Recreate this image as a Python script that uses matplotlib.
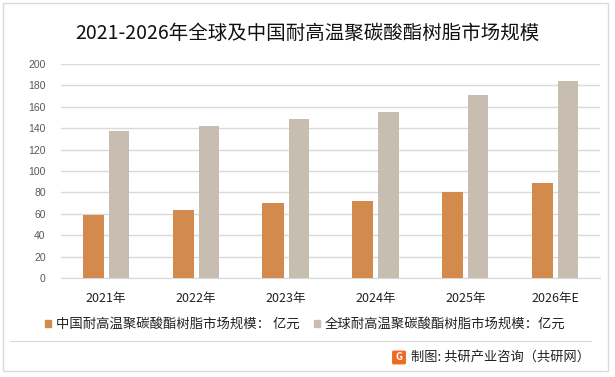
import matplotlib.pyplot as plt
from matplotlib.patches import Rectangle, FancyBboxPatch
from matplotlib.lines import Line2D
import numpy as np

plt.rcParams['font.family'] = ['Noto Sans CJK SC', 'DejaVu Sans']

# data
years = ['2021年', '2022年', '2023年', '2024年', '2025年', '2026年E']
china = [59, 64, 70, 72, 80.5, 89]
world = [137, 141.6, 149, 155, 171, 184]
china_label = '中国耐高温聚碳酸酯树脂市场规模： 亿元'
world_label = '全球耐高温聚碳酸酯树脂市场规模：亿元'
title = '2021-2026年全球及中国耐高温聚碳酸酯树脂市场规模'
source = '制图: 共研产业咨询（共研网）'

c_china = '#D38B4D'
c_world = '#C7BDB1'

W, H = 615, 377
fig = plt.figure(figsize=(W / 100, H / 100), dpi=100)

# outer frame
fig.add_artist(Rectangle((3 / W, 1 - 371 / H), 605 / W, 368 / H, transform=fig.transFigure,
                         fill=False, edgecolor='#D9D9D9', linewidth=1))

ax = fig.add_axes([61 / W, 1 - 278 / H, 539 / W, 214 / H])
x = np.arange(len(years))
ax.bar(x - 0.14, china, width=0.235, color=c_china, zorder=3)
ax.bar(x + 0.145, world, width=0.225, color=c_world, zorder=3)

ax.set_xlim(-0.5, len(years) - 0.5)
ax.set_ylim(0, 200)
ax.set_yticks(range(0, 201, 20))
ax.yaxis.grid(True, color='#D9D9D9', linewidth=1, zorder=0)
for s in ['top', 'right', 'left']:
    ax.spines[s].set_visible(False)
ax.spines['bottom'].set_color('#D9D9D9')
ax.tick_params(axis='y', length=0, pad=11, labelsize=7.5, labelcolor='#595959')
ax.tick_params(axis='x', length=0, pad=10, labelsize=9, labelcolor='#222222')
for lab in ax.get_yticklabels():
    lab.set_fontfamily(['Liberation Sans', 'DejaVu Sans'])
ax.set_xticks(x)
ax.set_xticklabels(years)

fig.text(0.5, 1 - 33 / H, title, ha='center', va='center', fontsize=14, color='#111111')

# legend
fig.add_artist(Rectangle((45 / W, 1 - 327 / H), 6 / W, 7 / H, transform=fig.transFigure,
                         color=c_china))
fig.text(56 / W, 1 - 323.5 / H, china_label, ha='left', va='center', fontsize=9.6, color='#222222')
fig.add_artist(Rectangle((314 / W, 1 - 327 / H), 6 / W, 7 / H, transform=fig.transFigure,
                         color=c_world))
fig.text(325 / W, 1 - 323.5 / H, world_label, ha='left', va='center', fontsize=9.6, color='#222222')

# divider and source
fig.add_artist(Line2D([10 / W, 591 / W], [1 - 341 / H, 1 - 341 / H], transform=fig.transFigure,
                      color='#D9D9D9', linewidth=0.8))
fig.add_artist(FancyBboxPatch((394 / W, 1 - 363 / H), 10 / W, 11 / H, transform=fig.transFigure,
                              boxstyle='round,pad=0.002', color='#EE6A24'))
fig.text(399 / W, 1 - 357.5 / H, 'G', ha='center', va='center', fontsize=7, color='white',
         fontweight='bold')
fig.text(411 / W, 1 - 357 / H, source, ha='left', va='center', fontsize=9.5, color='#222222')

fig.savefig('out.png', dpi=100)
